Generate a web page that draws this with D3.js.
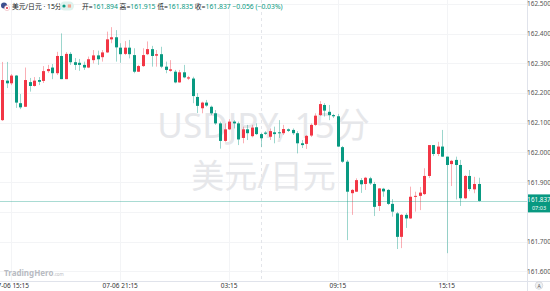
<!DOCTYPE html>
<html>
<head>
<meta charset="utf-8">
<script src="https://cdn.jsdelivr.net/npm/d3@7"></script>
<style>
  html, body { margin: 0; padding: 0; background: #fff; }
  svg { display: block; font-family: "Noto Sans", "Noto Sans CJK SC", sans-serif; }
</style>
</head>
<body>
<svg id="vis" width="550" height="291"></svg>
<script>
// USD/JPY 15 min candles, 07-06 14:45 .. 07-07 17:00
const opens  = [162.109,162.242,162.233,162.259,162.166,162.154,162.237,162.224,162.244,162.241,
                162.274,162.286,162.267,162.325,162.247,162.332,162.304,162.302,162.295,162.286,
                162.311,162.327,162.321,162.337,162.381,162.388,162.353,162.332,162.353,162.328,
                162.272,162.291,162.331,162.348,162.326,162.331,162.289,162.275,162.272,162.236,
                162.270,162.249,162.249,162.187,162.149,162.168,162.154,162.132,162.098,162.039,
                162.078,162.104,162.098,162.049,162.078,162.055,162.085,162.062,162.067,162.053,
                162.068,162.068,162.065,162.078,162.076,162.065,162.031,162.029,162.057,162.093,
                162.126,162.160,162.137,162.126,162.122,162.018,161.969,161.863,161.868,161.907,
                161.894,161.913,161.894,161.820,161.878,161.874,161.827,161.795,161.716,161.790,
                161.778,161.851,161.854,161.860,161.921,162.025,161.995,162.020,161.986,161.961,
                161.975,161.958,161.846,161.921,161.876,161.894];
const highs  = [162.305,162.305,162.264,162.261,162.197,162.286,162.251,162.254,162.254,162.291,
                162.295,162.298,162.339,162.401,162.338,162.338,162.318,162.315,162.306,162.323,
                162.345,162.343,162.345,162.407,162.422,162.412,162.368,162.375,162.379,162.351,
                162.295,162.351,162.374,162.359,162.345,162.356,162.306,162.311,162.278,162.278,
                162.295,162.258,162.255,162.200,162.171,162.177,162.158,162.143,162.104,162.098,
                162.112,162.109,162.104,162.087,162.093,162.093,162.098,162.065,162.072,162.081,
                162.087,162.109,162.093,162.081,162.081,162.072,162.042,162.059,162.098,162.132,
                162.173,162.166,162.160,162.130,162.130,162.022,161.975,161.877,161.913,161.914,
                161.918,161.918,161.901,161.880,161.881,161.877,161.843,161.800,161.793,161.796,
                161.885,161.868,161.884,161.947,162.025,162.025,162.036,162.076,161.986,161.975,
                161.986,161.975,161.924,161.941,161.918,161.915];
const lows   = [162.106,162.217,162.227,162.150,162.146,162.153,162.205,162.222,162.227,162.234,
                162.268,162.247,162.261,162.247,162.247,162.295,162.278,162.275,162.278,162.284,
                162.300,162.295,162.306,162.335,162.368,162.306,162.302,162.328,162.317,162.267,
                162.271,162.288,162.328,162.289,162.289,162.284,162.267,162.272,162.233,162.235,
                162.250,162.244,162.166,162.133,162.132,162.154,162.126,162.093,162.013,162.036,
                162.076,162.081,162.025,162.031,162.042,162.051,162.059,162.018,162.059,162.042,
                162.031,162.049,162.059,162.069,162.059,161.997,162.015,162.012,162.052,162.089,
                162.123,162.121,162.109,162.116,162.019,161.965,161.705,161.790,161.867,161.864,
                161.874,161.891,161.786,161.803,161.851,161.823,161.784,161.675,161.678,161.746,
                161.776,161.801,161.806,161.857,161.914,161.988,161.988,161.985,161.661,161.887,
                161.842,161.820,161.843,161.870,161.863,161.835];
const closes = [162.244,162.233,162.259,162.168,162.152,162.244,162.224,162.242,162.238,162.274,
                162.281,162.267,162.325,162.247,162.332,162.304,162.295,162.295,162.286,162.314,
                162.327,162.314,162.337,162.381,162.388,162.354,162.331,162.353,162.331,162.272,
                162.291,162.328,162.348,162.325,162.331,162.289,162.278,162.280,162.236,162.270,
                162.253,162.253,162.190,162.157,162.168,162.158,162.132,162.098,162.039,162.078,
                162.104,162.098,162.044,162.078,162.065,162.084,162.062,162.048,162.063,162.072,
                162.062,162.065,162.079,162.073,162.065,162.031,162.025,162.056,162.093,162.124,
                162.163,162.141,162.126,162.122,162.020,161.969,161.868,161.874,161.907,161.893,
                161.915,161.896,161.817,161.879,161.869,161.827,161.801,161.716,161.790,161.778,
                161.851,161.854,161.865,161.921,162.025,161.995,162.020,161.986,161.958,161.972,
                161.958,161.846,161.921,161.877,161.894,161.837];

const priceTicks = [161.6, 161.7, 161.8, 161.9, 162.0, 162.1, 162.2, 162.3, 162.4, 162.5];
const timeTicks = [2, 26, 50, 74, 98];
const timeLabels = ["07-06 15:15", "07-06 21:15", "03:15", "09:15", "15:15"];
const sessionBreak = 57;
const lastPrice = 161.837;
const countdown = "07:03";

const UP = "#f23645", DOWN = "#089981";

const svg = d3.select("#vis");
const plotRight = 527, plotBottom = 281;

const x = d3.scaleLinear().domain([0, 105]).range([2.3, 478.5]);
const y = d3.scaleLinear().domain([161.6, 162.5]).range([271.3, 4]);

// grid
svg.append("g").selectAll("line").data(priceTicks).join("line")
  .attr("x1", 0).attr("x2", plotRight)
  .attr("y1", d => Math.round(y(d)) + 0.5).attr("y2", d => Math.round(y(d)) + 0.5)
  .attr("stroke", "#f3f4f6");
svg.append("g").selectAll("line").data(timeTicks).join("line")
  .attr("x1", d => Math.round(x(d)) + 0.5).attr("x2", d => Math.round(x(d)) + 0.5)
  .attr("y1", 0).attr("y2", plotBottom)
  .attr("stroke", "#f3f4f6");
svg.append("line")
  .attr("x1", Math.round(x(sessionBreak)) + 0.5).attr("x2", Math.round(x(sessionBreak)) + 0.5)
  .attr("y1", 0).attr("y2", plotBottom)
  .attr("stroke", "#e3e5ea").attr("stroke-dasharray", "3,3");

// watermark
const wm = svg.append("g").attr("fill", "#e6e7ea").attr("text-anchor", "middle");
wm.append("text").attr("x", plotRight / 2).attr("y", 138)
  .attr("font-size", 35).text("USDJPY, 15分");
wm.append("text").attr("x", plotRight / 2).attr("y", 188)
  .attr("font-size", 33).text("美元/日元");

// candles
const candles = d3.range(opens.length).map(i => ({
  i, o: opens[i], h: highs[i], l: lows[i], c: closes[i]
}));
const cg = svg.append("g");
cg.selectAll("line").data(candles).join("line")
  .attr("x1", d => Math.round(x(d.i)) + 0.5).attr("x2", d => Math.round(x(d.i)) + 0.5)
  .attr("y1", d => y(d.h)).attr("y2", d => y(d.l))
  .attr("stroke", d => d.c >= d.o ? UP : DOWN)
  .attr("stroke-opacity", 0.4);
cg.selectAll("rect").data(candles).join("rect")
  .attr("x", d => Math.round(x(d.i)) - 1)
  .attr("width", 3)
  .attr("y", d => y(Math.max(d.o, d.c)))
  .attr("height", d => Math.max(1, Math.abs(y(d.o) - y(d.c))))
  .attr("fill", d => d.c >= d.o ? UP : DOWN);

// last price line
svg.append("line")
  .attr("x1", 0).attr("x2", plotRight)
  .attr("y1", Math.round(y(lastPrice)) + 0.5).attr("y2", Math.round(y(lastPrice)) + 0.5)
  .attr("stroke", DOWN).attr("stroke-opacity", 0.35);

// axes frame
svg.append("line").attr("x1", plotRight + 0.5).attr("x2", plotRight + 0.5)
  .attr("y1", 0).attr("y2", 291).attr("stroke", "#e0e3eb");
svg.append("line").attr("x1", 0).attr("x2", 550)
  .attr("y1", plotBottom + 0.5).attr("y2", plotBottom + 0.5).attr("stroke", "#e0e3eb");

// price axis labels (the one hidden under the last-price box is skipped)
svg.append("g").selectAll("text")
  .data(priceTicks.filter(d => Math.abs(y(d) - y(lastPrice)) > 13)).join("text")
  .attr("x", 539).attr("y", d => y(d) + 2.3)
  .attr("text-anchor", "middle").attr("font-size", 6.5).attr("fill", "#555")
  .text(d => d3.format(".3f")(d));

// price box
const pb = svg.append("g");
pb.append("rect").attr("x", plotRight + 1).attr("y", y(lastPrice) - 6.5)
  .attr("width", 550 - plotRight - 1).attr("height", 18).attr("fill", DOWN);
pb.append("text").attr("x", 539).attr("y", y(lastPrice) + 1.5)
  .attr("text-anchor", "middle").attr("font-size", 6.3).attr("fill", "#fff")
  .text(d3.format(".3f")(lastPrice));
pb.append("text").attr("x", 539).attr("y", y(lastPrice) + 9)
  .attr("text-anchor", "middle").attr("font-size", 5.5).attr("fill", "#fff")
  .text(countdown);

// time axis labels
svg.append("g").selectAll("text").data(timeTicks).join("text")
  .attr("x", (d, k) => x(d)).attr("y", 288)
  .attr("text-anchor", "middle").attr("font-size", 6.5).attr("fill", "#333")
  .text((d, k) => timeLabels[k]);

// "A" auto button
svg.append("circle").attr("cx", 539).attr("cy", 285.5).attr("r", 3.8)
  .attr("fill", "#f0f1f3").attr("stroke", "#c9cbd1").attr("stroke-width", 0.6);
svg.append("text").attr("x", 539).attr("y", 287.6).attr("text-anchor", "middle")
  .attr("font-size", 5).attr("fill", "#555").text("A");

// logo
const logo = svg.append("text").attr("x", 4).attr("y", 276)
  .attr("font-size", 8).attr("font-weight", "bold").attr("fill", "#b8bbc2");
logo.append("tspan").text("TradingHero");
logo.append("tspan").attr("font-size", 4.5).attr("font-weight", "normal").text(".com");

// header
svg.append("circle").attr("cx", 4).attr("cy", 5.5).attr("r", 3).attr("fill", "#3c4f8f");
svg.append("circle").attr("cx", 7).attr("cy", 8).attr("r", 2.6).attr("fill", "#fff").attr("stroke", "#e8a0a8").attr("stroke-width", 0.5);
svg.append("circle").attr("cx", 7).attr("cy", 8).attr("r", 1).attr("fill", "#e03040");

const head = svg.append("text").attr("x", 12).attr("y", 8.8).attr("font-size", 6.8).attr("fill", "#131722");
head.append("tspan").text("美元/日元 · 15分 ·");
svg.append("rect").attr("x", 60).attr("y", 1.5).attr("width", 14).attr("height", 9).attr("rx", 4.5)
  .attr("fill", "#dff2ee");
svg.append("circle").attr("cx", 64).attr("cy", 6).attr("r", 1.6).attr("fill", DOWN);
svg.append("rect").attr("x", 67.8).attr("y", 4.4).attr("width", 3.2).attr("height", 3.2).attr("fill", "#f5a38f");

const ohlc = svg.append("text").attr("x", 82).attr("y", 8.8).attr("font-size", 6.8);
const last = candles[candles.length - 1];
[["开", last.o], ["高", last.h], ["低", last.l], ["收", last.c]].forEach(([k, v]) => {
  ohlc.append("tspan").attr("fill", "#131722").text(k + "=");
  ohlc.append("tspan").attr("fill", DOWN).text(d3.format(".3f")(v) + " ");
});
ohlc.append("tspan").attr("fill", DOWN)
  .text("\u22120.056 (\u22120.03%)");
</script>
</body>
</html>
